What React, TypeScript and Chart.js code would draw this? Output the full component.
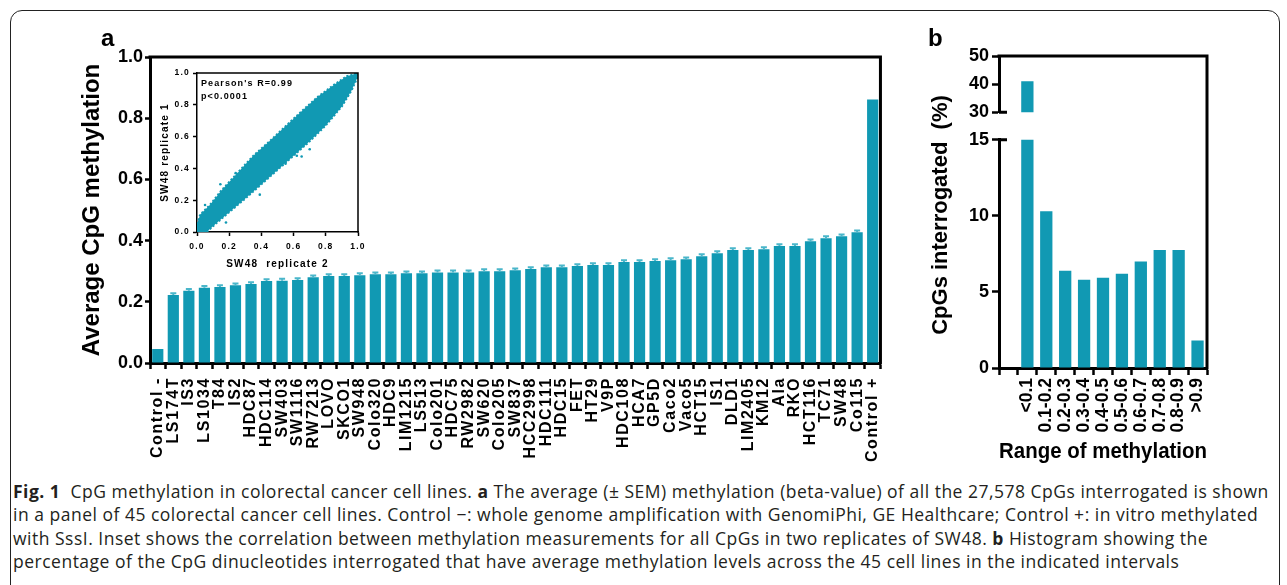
import React, { useEffect, useRef } from 'react';
import { Chart, registerables } from 'chart.js';

Chart.register(...registerables);

// ---------- Data ----------
const cellLines = [
  'Control -', 'LS174T', 'IS3', 'LS1034', 'T84', 'IS2', 'HDC87', 'HDC114', 'SW403', 'SW1116',
  'RW7213', 'LOVO', 'SKCO1', 'SW948', 'Colo320', 'HDC9', 'LIM1215', 'LS513', 'Colo201', 'HDC75',
  'RW2982', 'SW620', 'Colo205', 'SW837', 'HCC2998', 'HDC111', 'HDC15', 'FET', 'HT29', 'V9P',
  'HDC108', 'HCA7', 'GP5D', 'Caco2', 'Vaco5', 'HCT15', 'IS1', 'DLD1', 'LIM2405', 'KM12',
  'Ala', 'RKO', 'HCT116', 'TC71', 'SW48', 'Co115', 'Control +',
];
const avgMethylation = [
  0.046, 0.222, 0.236, 0.246, 0.248, 0.254, 0.258, 0.268, 0.269, 0.271,
  0.280, 0.284, 0.284, 0.287, 0.290, 0.290, 0.293, 0.293, 0.296, 0.296,
  0.296, 0.300, 0.300, 0.303, 0.307, 0.313, 0.313, 0.317, 0.320, 0.320,
  0.330, 0.330, 0.333, 0.336, 0.339, 0.349, 0.359, 0.369, 0.369, 0.372,
  0.382, 0.382, 0.398, 0.408, 0.414, 0.427, 0.861,
];
const semMethylation = [
  0, 0.006, 0.006, 0.006, 0.006, 0.006, 0.006, 0.006, 0.006, 0.006,
  0.006, 0.006, 0.006, 0.006, 0.006, 0.006, 0.006, 0.006, 0.006, 0.006,
  0.006, 0.006, 0.006, 0.006, 0.006, 0.006, 0.006, 0.006, 0.006, 0.006,
  0.006, 0.006, 0.006, 0.006, 0.006, 0.006, 0.006, 0.006, 0.006, 0.006,
  0.006, 0.006, 0.006, 0.006, 0.006, 0.006, 0,
];
const mainYTicks = [0, 0.2, 0.4, 0.6, 0.8, 1.0];

const rangeLabels = ['', '<0.1', '0.1-0.2', '0.2-0.3', '0.3-0.4', '0.4-0.5', '0.5-0.6', '0.6-0.7', '0.7-0.8', '0.8-0.9', '>0.9'];
const cpgPercent = [null, 41, 10.3, 6.4, 5.8, 5.93, 6.2, 7.0, 7.75, 7.75, 1.8];
const upperYTicks = [30, 40, 50];
const lowerYTicks = [0, 5, 10, 15];

// inset: SW48 replicate 2 (x) vs replicate 1 (y)
const cloudUpperEdge = [
  { x: 0.0, y: 0.0 }, { x: 0.0, y: 0.05 }, { x: 0.02, y: 0.11 }, { x: 0.08, y: 0.17 },
  { x: 0.15, y: 0.26 }, { x: 0.25, y: 0.37 }, { x: 0.35, y: 0.48 }, { x: 0.45, y: 0.57 },
  { x: 0.55, y: 0.665 }, { x: 0.65, y: 0.76 }, { x: 0.75, y: 0.85 }, { x: 0.85, y: 0.925 },
  { x: 0.93, y: 0.98 }, { x: 1.0, y: 1.0 },
];
const cloudLowerEdge = [
  { x: 1.0, y: 0.98 }, { x: 0.96, y: 0.89 }, { x: 0.9, y: 0.79 }, { x: 0.8, y: 0.67 },
  { x: 0.7, y: 0.57 }, { x: 0.6, y: 0.48 }, { x: 0.5, y: 0.39 }, { x: 0.4, y: 0.30 },
  { x: 0.3, y: 0.21 }, { x: 0.2, y: 0.125 }, { x: 0.12, y: 0.055 }, { x: 0.06, y: 0.0 },
  { x: 0.0, y: 0.0 },
];
const cloudOutliers = [
  { x: 0.145, y: 0.30 }, { x: 0.39, y: 0.235 }, { x: 0.65, y: 0.475 }, { x: 0.62, y: 0.48 },
  { x: 0.18, y: 0.06 }, { x: 0.05, y: 0.17 }, { x: 0.3, y: 0.41 }, { x: 0.7, y: 0.52 },
  { x: 0.24, y: 0.37 }, { x: 0.55, y: 0.43 },
];
const fitLine = [{ x: 0, y: 0 }, { x: 1, y: 1 }];
const insetTicks = [0, 0.2, 0.4, 0.6, 0.8, 1.0];

// ---------- Styles ----------
const TEAL = '#1199b3';
const CAP = '#4ab6ca';
const SANS = '"Liberation Sans", Arial, sans-serif';
const NARROW = '"Liberation Sans Narrow", "Liberation Sans", Arial, sans-serif';

const boxPlugin = (sides: { top?: boolean; right?: boolean; extTop?: boolean; extBottom?: boolean; breakTop?: boolean; breakBottom?: boolean }, lw: number) => ({
  id: 'boxLines',
  afterDraw(chart: any) {
    const { ctx, chartArea: a } = chart;
    ctx.save();
    ctx.strokeStyle = '#000';
    ctx.lineWidth = lw;
    ctx.beginPath();
    if (sides.top) { ctx.moveTo(a.left - lw / 2, a.top); ctx.lineTo(a.right + lw / 2, a.top); }
    if (sides.right) {
      const t = sides.extTop ? 0 : a.top;
      const b = sides.extBottom ? chart.height : a.bottom + lw / 2;
      ctx.moveTo(a.right, t); ctx.lineTo(a.right, b);
    }
    if (sides.breakTop) { ctx.moveTo(a.left, a.top); ctx.lineTo(a.left + 8, a.top); }
    if (sides.breakBottom) { ctx.moveTo(a.left, a.bottom); ctx.lineTo(a.left + 8, a.bottom); }
    ctx.stroke();
    ctx.restore();
  },
});

const errorBarPlugin = {
  id: 'semBars',
  afterDatasetsDraw(chart: any) {
    const { ctx } = chart;
    const meta = chart.getDatasetMeta(0);
    const yScale = chart.scales.y;
    ctx.save();
    ctx.strokeStyle = CAP;
    ctx.lineWidth = 2;
    meta.data.forEach((el: any, i: number) => {
      const s = semMethylation[i];
      if (!s) return;
      const yTop = yScale.getPixelForValue(avgMethylation[i] + s);
      ctx.beginPath();
      ctx.moveTo(el.x, el.y);
      ctx.lineTo(el.x, yTop);
      ctx.moveTo(el.x - 3, yTop);
      ctx.lineTo(el.x + 3, yTop);
      ctx.stroke();
    });
    ctx.restore();
  },
};

const letterSpacingPlugin = (spacing: string) => ({
  id: 'spacing',
  beforeDraw(chart: any) { (chart.ctx as any).letterSpacing = spacing; },
});

const xLabelSpacingPlugin = (spacing: string) => ({
  id: 'xspacing',
  beforeDraw(chart: any) { (chart.ctx as any).letterSpacing = '0px'; },
  afterDatasetsDraw(chart: any) { (chart.ctx as any).letterSpacing = spacing; },
  afterDraw(chart: any) { (chart.ctx as any).letterSpacing = '0px'; },
});

export default function App() {
  const mainRef = useRef<HTMLCanvasElement>(null);
  const insetRef = useRef<HTMLCanvasElement>(null);
  const upperRef = useRef<HTMLCanvasElement>(null);
  const lowerRef = useRef<HTMLCanvasElement>(null);

  useEffect(() => {
    const charts: Chart[] = [];

    // ---- Panel a: main bar chart ----
    charts.push(new Chart(mainRef.current!, {
      type: 'bar',
      data: {
        labels: cellLines,
        datasets: [{ data: avgMethylation, backgroundColor: TEAL, barPercentage: 0.72, categoryPercentage: 1 }],
      },
      options: {
        animation: false,
        responsive: false,
        layout: { padding: { left: 0, right: 12, top: 57, bottom: 0 } },
        plugins: { legend: { display: false }, tooltip: { enabled: false } },
        scales: {
          x: {
            grid: { drawOnChartArea: false, drawTicks: true, tickLength: 6, tickWidth: 2.5, tickColor: '#000' },
            border: { display: true, color: '#000', width: 3 },
            ticks: {
              minRotation: 90, maxRotation: 90, autoSkip: false, color: '#000', padding: 8, z: 1,
              font: { family: SANS, size: 16, weight: 'bold' },
            },
            afterFit: (s: any) => { s.height = 107; },
          },
          y: {
            min: 0, max: 1,
            afterBuildTicks: (s: any) => { s.ticks = mainYTicks.map((v) => ({ value: v })); },
            ticks: {
              callback: (v: any) => Number(v).toFixed(1), color: '#000', padding: 2,
              font: { family: NARROW, size: 18, weight: 'bold' },
            },
            grid: { drawOnChartArea: false, tickLength: 5, tickWidth: 2.5, tickColor: '#000' },
            border: { color: '#000', width: 3 },
            title: {
              display: true, text: 'Average CpG methylation', color: '#000',
              font: { family: SANS, size: 24, weight: 'bold' }, padding: { top: 78, bottom: 0 },
            },
            afterFit: (s: any) => { s.width = 150; },
          },
        },
      } as any,
      plugins: [errorBarPlugin, boxPlugin({ top: true, right: true }, 3), xLabelSpacingPlugin('1.6px')],
    }));

    // ---- Inset scatter ----
    charts.push(new Chart(insetRef.current!, {
      type: 'scatter',
      data: {
        datasets: [
          {
            data: [...cloudUpperEdge, ...cloudLowerEdge], showLine: true, fill: 'shape',
            backgroundColor: TEAL, borderColor: TEAL, borderWidth: 2, borderDash: [2, 2], pointRadius: 0,
          } as any,
          { data: cloudOutliers, backgroundColor: TEAL, borderColor: TEAL, pointRadius: 1.3, borderWidth: 0 },
          { data: fitLine, showLine: true, borderColor: '#000', borderWidth: 1.5, pointRadius: 0 },
        ],
      },
      options: {
        animation: false,
        responsive: false,
        layout: { padding: { left: 0, right: 12, top: 13, bottom: 0 } },
        plugins: { legend: { display: false }, tooltip: { enabled: false } },
        scales: {
          x: {
            type: 'linear', min: 0, max: 1,
            afterBuildTicks: (s: any) => { s.ticks = insetTicks.map((v) => ({ value: v })); },
            ticks: { callback: (v: any) => Number(v).toFixed(1), color: '#000', padding: 6, font: { family: SANS, size: 8.5, weight: 'bold' } },
            grid: { drawOnChartArea: false, tickLength: 4, tickWidth: 1.5, tickColor: '#000' },
            border: { color: '#000', width: 1.5 },
            title: { display: true, text: 'SW48  replicate 2', color: '#000', font: { family: SANS, size: 10, weight: 'bold' }, padding: { top: 0, bottom: 5 } },
            afterFit: (s: any) => { s.height = 43; },
          },
          y: {
            type: 'linear', min: 0, max: 1,
            afterBuildTicks: (s: any) => { s.ticks = insetTicks.map((v) => ({ value: v })); },
            ticks: { callback: (v: any) => Number(v).toFixed(1), color: '#000', padding: 3, font: { family: SANS, size: 8.5, weight: 'bold' } },
            grid: { drawOnChartArea: false, tickLength: 4, tickWidth: 1.5, tickColor: '#000' },
            border: { color: '#000', width: 1.5 },
            title: { display: true, text: 'SW48 replicate 1', color: '#000', font: { family: SANS, size: 10, weight: 'bold' }, padding: { top: 29, bottom: 0 } },
            afterFit: (s: any) => { s.width = 67; },
          },
        },
      } as any,
      plugins: [boxPlugin({ top: true, right: true }, 1.5), letterSpacingPlugin('1.2px')],
    }));

    // ---- Panel b: upper segment (30-50) ----
    charts.push(new Chart(upperRef.current!, {
      type: 'bar',
      data: { labels: rangeLabels, datasets: [{ data: cpgPercent, backgroundColor: TEAL, barPercentage: 0.65, categoryPercentage: 1 }] },
      options: {
        animation: false,
        responsive: false,
        layout: { padding: { left: 0, right: 80, top: 56, bottom: 12 } },
        plugins: { legend: { display: false }, tooltip: { enabled: false } },
        scales: {
          x: { display: false },
          y: {
            min: 30, max: 50,
            afterBuildTicks: (s: any) => { s.ticks = upperYTicks.map((v) => ({ value: v })); },
            ticks: { color: '#000', padding: 3, font: { family: SANS, size: 18, weight: 'bold' } },
            grid: { drawOnChartArea: false, tickLength: 7, tickWidth: 2.5, tickColor: '#000' },
            border: { color: '#000', width: 3 },
            afterFit: (s: any) => { s.width = 99; },
          },
        },
      } as any,
      plugins: [boxPlugin({ top: true, right: true, extBottom: true, breakBottom: true }, 3)],
    }));

    // ---- Panel b: lower segment (0-15) ----
    charts.push(new Chart(lowerRef.current!, {
      type: 'bar',
      data: { labels: rangeLabels, datasets: [{ data: cpgPercent, backgroundColor: TEAL, barPercentage: 0.65, categoryPercentage: 1 }] },
      options: {
        animation: false,
        responsive: false,
        layout: { padding: { left: 0, right: 80, top: 11, bottom: 0 } },
        plugins: { legend: { display: false }, tooltip: { enabled: false } },
        scales: {
          x: {
            grid: { drawOnChartArea: false, tickLength: 7, tickWidth: 2.5, tickColor: '#000' },
            border: { color: '#000', width: 3 },
            ticks: { minRotation: 90, maxRotation: 90, autoSkip: false, color: '#000', padding: 3, font: { family: SANS, size: 17.5, weight: 'bold' } },
            title: { display: true, text: 'Range of methylation', color: '#000', font: { family: SANS, size: 22, weight: 'bold' }, padding: { top: 0, bottom: 5 } },
            afterFit: (s: any) => { s.height = 102; },
          },
          y: {
            min: 0, max: 15,
            afterBuildTicks: (s: any) => { s.ticks = lowerYTicks.map((v) => ({ value: v })); },
            ticks: { color: '#000', padding: 3, font: { family: SANS, size: 18, weight: 'bold' } },
            grid: { drawOnChartArea: false, tickLength: 7, tickWidth: 2.5, tickColor: '#000' },
            border: { color: '#000', width: 3 },
            afterFit: (s: any) => { s.width = 99; },
          },
        },
      } as any,
      plugins: [boxPlugin({ right: true, extTop: true, breakTop: true }, 3)],
    }));

    return () => { charts.forEach((c) => c.destroy()); };
  }, []);

  const abs = (left: number, top: number, w: number, h: number): React.CSSProperties => ({ position: 'absolute', left, top, width: w, height: h });

  return (
    <div style={{ position: 'absolute', left: 0, top: 0, width: 1287, height: 585, overflow: 'hidden', background: '#fff' }}>
      <div style={{ position: 'absolute', left: 10, top: 10, width: 1268, height: 620, border: '1.5px solid #222', borderRadius: 12 }} />
      <canvas ref={mainRef} width={900} height={470} style={abs(0, 0, 900, 470)} />
      <canvas ref={insetRef} width={240} height={215} style={abs(130, 60, 240, 215)} />
      <canvas ref={upperRef} width={387} height={126} style={abs(900, 0, 387, 126)} />
      <canvas ref={lowerRef} width={387} height={344} style={abs(900, 126, 387, 344)} />

      <div style={{ position: 'absolute', left: 101, top: 24, fontFamily: SANS, fontWeight: 'bold', fontSize: 24, lineHeight: '28px', color: '#000' }}>a</div>
      <div style={{ position: 'absolute', left: 928, top: 24, fontFamily: SANS, fontWeight: 'bold', fontSize: 24, lineHeight: '28px', color: '#000' }}>b</div>

      <div style={{ position: 'absolute', left: 201, top: 77, fontFamily: SANS, fontWeight: 'bold', fontSize: 9, lineHeight: '12.5px', letterSpacing: '1.1px', color: '#000', whiteSpace: 'nowrap' }}>
        <div>Pearson's R=0.99</div>
        <div>p&lt;0.0001</div>
      </div>

      <div style={{ position: 'absolute', left: 940, top: 215, transform: 'translate(-50%, -50%) rotate(-90deg)', fontFamily: SANS, fontWeight: 'bold', fontSize: 22, color: '#000', whiteSpace: 'pre' }}>
        CpGs interrogated  (%)
      </div>

      <div style={{ position: 'absolute', left: 13, top: 480, fontFamily: '"Open Sans", Lato, sans-serif', fontSize: 17.5, letterSpacing: '0.5px', lineHeight: '23.4px', color: '#231f20', whiteSpace: 'nowrap' }}>
        <div><b>Fig. 1</b>&nbsp; CpG methylation in colorectal cancer cell lines. <b>a</b> The average (± SEM) methylation (beta-value) of all the 27,578 CpGs interrogated is shown</div>
        <div>in a panel of 45 colorectal cancer cell lines. Control −: whole genome amplification with GenomiPhi, GE Healthcare; Control +: in vitro methylated</div>
        <div>with SssI. Inset shows the correlation between methylation measurements for all CpGs in two replicates of SW48. <b>b</b> Histogram showing the</div>
        <div>percentage of the CpG dinucleotides interrogated that have average methylation levels across the 45 cell lines in the indicated intervals</div>
      </div>
    </div>
  );
}
